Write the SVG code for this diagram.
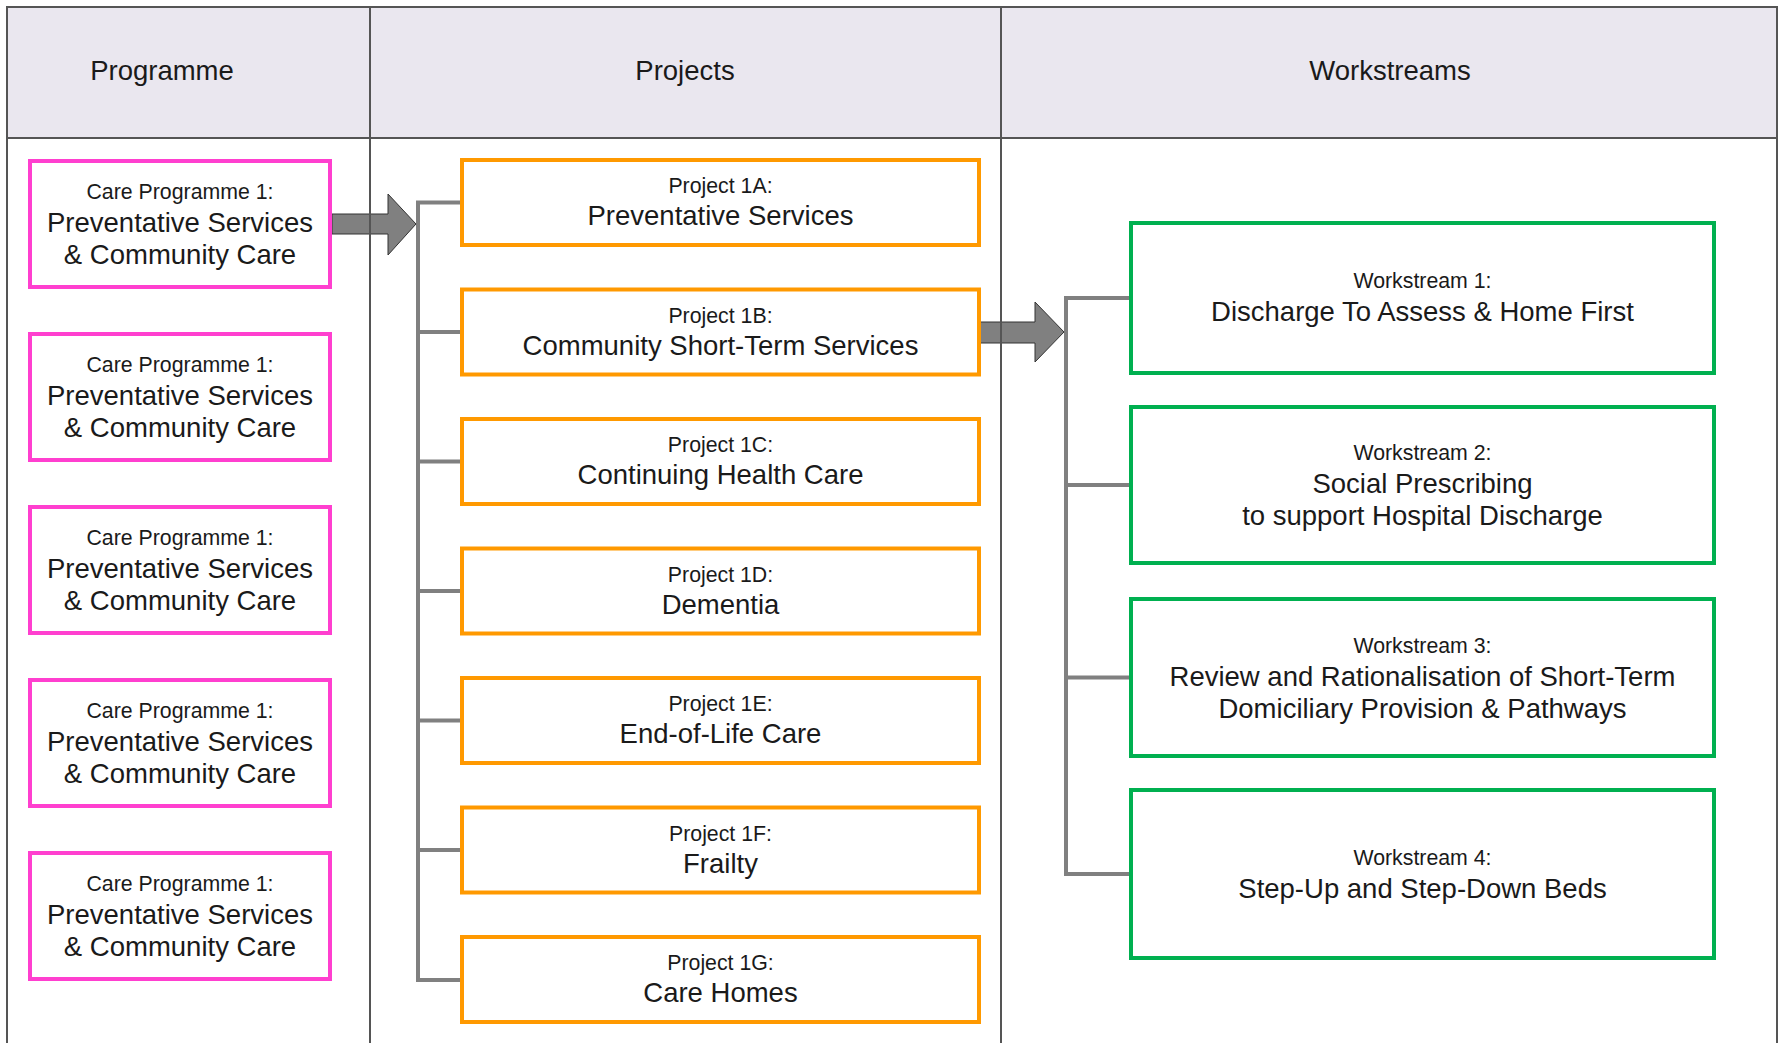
<svg xmlns="http://www.w3.org/2000/svg" width="1780" height="1043" viewBox="0 0 1780 1043">
<style>
text{font-family:"Liberation Sans",Arial,sans-serif;fill:#1a1a1a;text-anchor:middle}
.h{font-size:27.5px}
.s{font-size:21.3px}
.b{font-size:27.5px}
.grid{stroke:#555;stroke-width:2;fill:none}
.prog{fill:#fff;stroke:#ff3fcf;stroke-width:4}
.proj{fill:#fff;stroke:#ff9900;stroke-width:4}
.ws{fill:#fff;stroke:#00b050;stroke-width:4}
.tree{stroke:#808080;stroke-width:4;fill:none}
.arrow{fill:#808080;stroke:#333;stroke-width:1}
</style>
<rect x="0" y="0" width="1780" height="1043" fill="#fff"/>
<g id="table">
<rect x="7" y="7" width="1770" height="131" fill="#eae7ef"/>
</g>
<g id="connectors">
<path class="tree" d="M460,202.5 H418 V980 H460 M418,332 H460 M418,461.5 H460 M418,591 H460 M418,720.5 H460 M418,850 H460"/>
<path class="tree" d="M1129,298 H1066 V874 H1129 M1066,485 H1129 M1066,677.5 H1129"/>
<path class="arrow" d="M332,214 H388 V194 L416,224 L388,255 V234 H332 Z"/>
<path class="arrow" d="M979,322 H1035 V302 L1064,332 L1035,362 V343 H979 Z"/>
</g>
<g id="tablelines">
<path class="grid" d="M7,1043 V7 H1777 V1043 M7,138 H1777 M370,7 V1043 M1001,7 V1043"/>
<text class="h" x="162" y="80">Programme</text>
<text class="h" x="685" y="80">Projects</text>
<text class="h" x="1390" y="80">Workstreams</text>
</g>
<g id="prog1"><rect class="prog" x="30" y="161" width="300" height="126"/><text class="s" x="180" y="199">Care Programme 1:</text><text class="b" x="180" y="232">Preventative Services</text><text class="b" x="180" y="264">&amp; Community Care</text></g>
<g id="prog2"><rect class="prog" x="30" y="334" width="300" height="126"/><text class="s" x="180" y="372">Care Programme 1:</text><text class="b" x="180" y="405">Preventative Services</text><text class="b" x="180" y="437">&amp; Community Care</text></g>
<g id="prog3"><rect class="prog" x="30" y="507" width="300" height="126"/><text class="s" x="180" y="545">Care Programme 1:</text><text class="b" x="180" y="578">Preventative Services</text><text class="b" x="180" y="610">&amp; Community Care</text></g>
<g id="prog4"><rect class="prog" x="30" y="680" width="300" height="126"/><text class="s" x="180" y="718">Care Programme 1:</text><text class="b" x="180" y="751">Preventative Services</text><text class="b" x="180" y="783">&amp; Community Care</text></g>
<g id="prog5"><rect class="prog" x="30" y="853" width="300" height="126"/><text class="s" x="180" y="891">Care Programme 1:</text><text class="b" x="180" y="924">Preventative Services</text><text class="b" x="180" y="956">&amp; Community Care</text></g>
<g id="proj1A"><rect class="proj" x="462" y="160" width="517" height="85"/><text class="s" x="720.5" y="193">Project 1A:</text><text class="b" x="720.5" y="225">Preventative Services</text></g>
<g id="proj1B"><rect class="proj" x="462" y="289.5" width="517" height="85"/><text class="s" x="720.5" y="322.5">Project 1B:</text><text class="b" x="720.5" y="354.5">Community Short-Term Services</text></g>
<g id="proj1C"><rect class="proj" x="462" y="419" width="517" height="85"/><text class="s" x="720.5" y="452">Project 1C:</text><text class="b" x="720.5" y="484">Continuing Health Care</text></g>
<g id="proj1D"><rect class="proj" x="462" y="548.5" width="517" height="85"/><text class="s" x="720.5" y="581.5">Project 1D:</text><text class="b" x="720.5" y="613.5">Dementia</text></g>
<g id="proj1E"><rect class="proj" x="462" y="678" width="517" height="85"/><text class="s" x="720.5" y="711">Project 1E:</text><text class="b" x="720.5" y="743">End-of-Life Care</text></g>
<g id="proj1F"><rect class="proj" x="462" y="807.5" width="517" height="85"/><text class="s" x="720.5" y="840.5">Project 1F:</text><text class="b" x="720.5" y="872.5">Frailty</text></g>
<g id="proj1G"><rect class="proj" x="462" y="937" width="517" height="85"/><text class="s" x="720.5" y="970">Project 1G:</text><text class="b" x="720.5" y="1002">Care Homes</text></g>
<g id="ws1"><rect class="ws" x="1131" y="223" width="583" height="150"/><text class="s" x="1422.5" y="288">Workstream 1:</text><text class="b" x="1422.5" y="321">Discharge To Assess &amp; Home First</text></g>
<g id="ws2"><rect class="ws" x="1131" y="407" width="583" height="156"/><text class="s" x="1422.5" y="460">Workstream 2:</text><text class="b" x="1422.5" y="493">Social Prescribing</text><text class="b" x="1422.5" y="525">to support Hospital Discharge</text></g>
<g id="ws3"><rect class="ws" x="1131" y="599" width="583" height="157"/><text class="s" x="1422.5" y="652.5">Workstream 3:</text><text class="b" x="1422.5" y="685.5">Review and Rationalisation of Short-Term</text><text class="b" x="1422.5" y="717.5">Domiciliary Provision &amp; Pathways</text></g>
<g id="ws4"><rect class="ws" x="1131" y="790" width="583" height="168"/><text class="s" x="1422.5" y="865">Workstream 4:</text><text class="b" x="1422.5" y="898">Step-Up and Step-Down Beds</text></g>
</svg>
